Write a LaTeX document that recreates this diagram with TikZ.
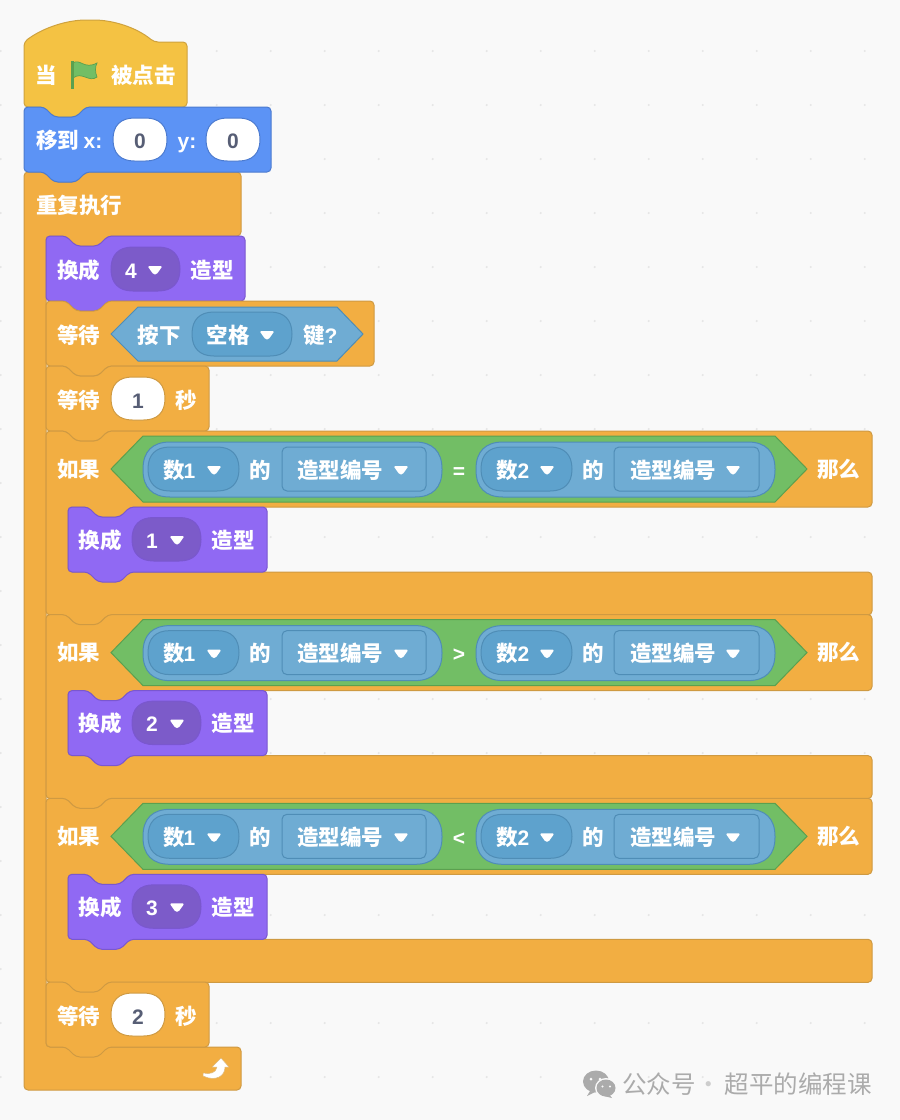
\documentclass[tikz,border=0pt]{standalone}
\usepackage{fontspec}
\newfontfamily\cjk{Noto Sans CJK SC}
\newfontfamily\lat{Liberation Sans}
\definecolor{bgc}{HTML}{F9F9F9}
\definecolor{dotc}{HTML}{E6E6E6}
\definecolor{orangeF}{HTML}{F2AE42}
\definecolor{orangeD}{HTML}{CF9A42}
\definecolor{yellowF}{HTML}{F4C243}
\definecolor{yellowD}{HTML}{CFA23E}
\definecolor{blueF}{HTML}{5C93F5}
\definecolor{blueD}{HTML}{4C7BD0}
\definecolor{purpF}{HTML}{9069F3}
\definecolor{purpD}{HTML}{7A57CF}
\definecolor{purpP}{HTML}{7C5BC9}
\definecolor{senseF}{HTML}{6FACD3}
\definecolor{senseP}{HTML}{5EA2CD}
\definecolor{senseD}{HTML}{4F8DB6}
\definecolor{greenF}{HTML}{72BE65}
\definecolor{greenD}{HTML}{5BA04F}
\definecolor{numc}{HTML}{575E75}
\definecolor{wmc}{HTML}{ABABAB}
\tikzset{
  blk/.style={rounded corners=4pt,line width=1pt,line join=round},
  orangeB/.style={blk,fill=orangeF,draw=orangeD},
  yellowB/.style={blk,fill=yellowF,draw=yellowD},
  blueB/.style={blk,fill=blueF,draw=blueD},
  purpB/.style={blk,fill=purpF,draw=purpD},
  lbl/.style={text=white,anchor=base,inner sep=0pt,yshift=-8pt,font=\cjk\bfseries\fontsize{21.5}{21.5}\selectfont},
  latl/.style={lbl,font=\lat\bfseries\fontsize{21}{21}\selectfont},
  numl/.style={latl,text=numc},
}
\newcommand{\capsule}[6]{% style x0 y0 x1 y1 r: smooth squircle
  \draw[#1] (#2+#6,#3) -- (#4-#6,#3) .. controls (#4-0.35*#6,#3) and (#4,#3+0.35*#6) .. (#4,#3+#6) -- (#4,#5-#6) .. controls (#4,#5-0.35*#6) and (#4-0.35*#6,#5) .. (#4-#6,#5) -- (#2+#6,#5) .. controls (#2+0.35*#6,#5) and (#2,#5-0.35*#6) .. (#2,#5-#6) -- (#2,#3+#6) .. controls (#2,#3+0.35*#6) and (#2+0.35*#6,#3) .. (#2+#6,#3) -- cycle;}
\tikzset{
  ovalO/.style={line width=1pt,fill=white,draw=orangeD},
  ovalB/.style={line width=1pt,fill=white,draw=blueD},
  pillP/.style={line width=1pt,fill=purpP,draw=purpD},
  pillS/.style={line width=1pt,fill=senseP,draw=senseD},
  pillO/.style={line width=1pt,fill=senseF,draw=senseD},
  rectS/.style={line width=1pt,fill=senseF,draw=senseD,rounded corners=5pt},
  hexG/.style={line width=1pt,fill=greenF,draw=greenD,line join=miter},
  hexS/.style={line width=1pt,fill=senseF,draw=senseD,line join=miter},
  wm/.style={text=wmc,anchor=base,inner sep=0pt,font=\cjk\fontsize{24.5}{24.5}\selectfont},
}
\newcommand{\stk}[5]{\draw[#1] (#2,#3+20) -- (#2,#3) -- (#2+20,#3) -- (#2+30,#3+10) -- (#2+52,#3+10) -- (#2+62,#3) -- (#4,#3) -- (#4,#5) -- (#2+62,#5) -- (#2+52,#5+10) -- (#2+30,#5+10) -- (#2+20,#5) -- (#2,#5) -- cycle;}
\newcommand{\cblk}[7]{\draw[#1] (#2,#3+20) -- (#2,#3) -- (#2+20,#3) -- (#2+30,#3+10) -- (#2+52,#3+10) -- (#2+62,#3) -- (#4,#3) -- (#4,#5) -- (#2+84,#5) -- (#2+74,#5+10) -- (#2+52,#5+10) -- (#2+42,#5) -- (#2+22,#5) -- (#2+22,#6) -- (#4,#6) -- (#4,#7) -- (#2+62,#7) -- (#2+52,#7+10) -- (#2+30,#7+10) -- (#2+20,#7) -- (#2,#7) -- cycle;}
\newcommand{\ddarrow}[2]{\fill[white,rounded corners=1.5pt] (#1-7.5,#2-4) -- (#1+7.5,#2-4) -- (#1+1.5,#2+4.5) -- (#1-1.5,#2+4.5) -- cycle;}
\begin{document}
\begin{tikzpicture}[x=1pt,y=-1pt]
\useasboundingbox (0,0) rectangle (900,1120);
\fill[bgc] (0,0) rectangle (900,1120);
\foreach \i in {0,...,16}{\foreach \j in {1,...,20}{\fill[dotc] (0.7+54*\i,-3+54*\j) circle (1.2pt);}}

% forever C block
\draw[orangeB] (24,192) -- (24,172) -- (44,172) -- (54,182) -- (76,182) -- (86,172) -- (241,172) -- (241,236) -- (108,236) -- (98,246) -- (76,246) -- (66,236) -- (46,236) -- (46,1047) -- (241,1047) -- (241,1090) -- (24,1090) -- cycle;

% hat
\draw[yellowB] (24,60) -- (24,42) .. controls (44,27) and (68,20) .. (90,20) .. controls (112,20) and (136,27) .. (154,42) -- (187,42) -- (187,107) -- (86,107) -- (76,117) -- (54,117) -- (44,107) -- (24,107) -- cycle;
\node[lbl] (whenA) at (46,75) {当};
\fill[greenF,draw=greenD,line width=0.7pt] (73,63) .. controls (80,58) and (84,70) .. (97,63) .. controls (95,67) and (95,72) .. (97,77) .. controls (89,83) and (82,71) .. (73,78) -- cycle;
\fill[greenD] (71,61) rectangle (73.5,88.5);
\node[lbl] (whenB) at (143.5,75) {被点击};

% move
\stk{blueB}{24}{107}{271}{172}
\node[lbl,anchor=base west] (moveA) at (36,140) {移到};
\node[latl] (moveX) at (93,140) {x:};
\capsule{ovalB}{113}{118}{167}{161}{21.5}
\node[numl] (moveXv) at (140,140) {0};
\node[latl] (moveY) at (187,140) {y:};
\capsule{ovalB}{206}{118}{260}{161}{21.5}
\node[numl] (moveYv) at (233,140) {0};

\node[lbl,anchor=base west] (foreverT) at (36,205) {重复执行};

% costume 4
\stk{purpB}{46}{236}{245}{301}
\node[lbl] (cA1) at (78.5,270) {换成};
\capsule{pillP}{111}{247}{180}{291}{22}
\node[latl] (cA2) at (131,270) {4};
\ddarrow{155}{270}
\node[lbl] (cA3) at (212,270) {造型};

% wait key
\stk{orangeB}{46}{301}{374}{366}
\node[lbl] (wA) at (78.5,335) {等待};
\draw[hexS] (111,334) -- (138,307) -- (337,307) -- (363,334) -- (337,361) -- (138,361) -- cycle;
\node[lbl] (wB) at (159,335) {按下};
\capsule{pillS}{192}{312}{292}{356}{22}
\node[lbl] (wC) at (228,335) {空格};
\ddarrow{267}{335}
\node[lbl] (wD1) at (314,335) {键};
\node[latl] (wD2) at (331,335) {?};

% wait 1
\stk{orangeB}{46}{366}{209}{431}
\node[lbl] (xA) at (78.5,400) {等待};
\capsule{ovalO}{111}{377}{165}{420}{21.5}
\node[numl] (xB) at (138,400) {1};
\node[lbl] (xC) at (186,400) {秒};

% if blocks
\foreach \r/\dy/\op/\sub in {a/0/=/1,b/183.6/>/2,c/367.3/</3}{
\begin{scope}[shift={(0,\dy)}]
\cblk{orangeB}{46}{431}{872}{507}{572}{615}
\node[lbl] (if\r) at (78.5,469.3) {如果};
\draw[hexG] (111,469) -- (143,436) -- (775,436) -- (807,469) -- (775,502) -- (143,502) -- cycle;
\capsule{pillO}{143}{442}{442}{497}{27}
\capsule{pillS}{148}{447}{239}{491}{22}
\node[lbl] (lnA\r) at (178,470) {数\,\,};
\node[latl] (lnB\r) at (189.5,470) {1};
\ddarrow{214}{470}
\node[lbl] (lof\r) at (260.5,470) {的};
\draw[rectS] (282,447) rectangle (426,491);
\node[lbl] (lc\r) at (340,470) {造型编号};
\ddarrow{401}{470}
\node[latl] (op\r) at (459,470) {\op};
\capsule{pillO}{476}{442}{775}{497}{27}
\capsule{pillS}{481}{447}{572}{491}{22}
\node[lbl] (rnA\r) at (511,470) {数\,\,};
\node[latl] (rnB\r) at (523.5,470) {2};
\ddarrow{547}{470}
\node[lbl] (rof\r) at (593.5,470) {的};
\draw[rectS] (614,447) rectangle (759,491);
\node[lbl] (rc\r) at (673,470) {造型编号};
\ddarrow{733}{470}
\node[lbl] (then\r) at (838.5,469.3) {那么};
\stk{purpB}{68}{507}{267}{572}
\node[lbl] (dA\r) at (100,540) {换成};
\capsule{pillP}{132}{517.5}{201}{561}{21.7}
\node[latl] (dB\r) at (152,540) {\sub};
\ddarrow{177}{540}
\node[lbl] (dC\r) at (233,540) {造型};
\end{scope}}

% wait 2
\stk{orangeB}{46}{982}{209}{1047}
\node[lbl] (zA) at (78.5,1016) {等待};
\capsule{ovalO}{111}{993}{165}{1036}{21.5}
\node[numl] (zB) at (138,1016) {2};
\node[lbl] (zC) at (186,1016) {秒};

% loop arrow
\draw[fill=white,draw=orangeD!70!white,line width=0.5pt,line join=round] (203,1073) .. controls (210,1074.5) and (216,1073) .. (217,1067) -- (212,1067) -- (221,1058) -- (229,1067) -- (225,1067) .. controls (225,1076) and (216,1082) .. (203,1076) -- cycle;

% watermark
\fill[wmc] (596,1081.5) ellipse [x radius=13pt,y radius=11pt];
\fill[wmc] (590,1091) -- (587,1096) -- (595,1092) -- cycle;
\fill[bgc] (606,1088) ellipse [x radius=11pt,y radius=10pt];
\fill[wmc] (606,1088) ellipse [x radius=9.5pt,y radius=8.5pt];
\fill[wmc] (609,1094) -- (612,1098) -- (604,1096) -- cycle;
\fill[bgc] (591,1079) circle (1.5pt) (600,1079) circle (1.5pt) (602.5,1086.5) circle (1.2pt) (610,1086.5) circle (1.2pt);
\node[wm,anchor=base west] (wm1) at (622,1093) {公众号};
\node[wm,text=wmc!60!white] (wm2) at (709,1093) {·};
\node[wm,anchor=base east] (wm3) at (872,1093) {超平的编程课};
\end{tikzpicture}
\end{document}
